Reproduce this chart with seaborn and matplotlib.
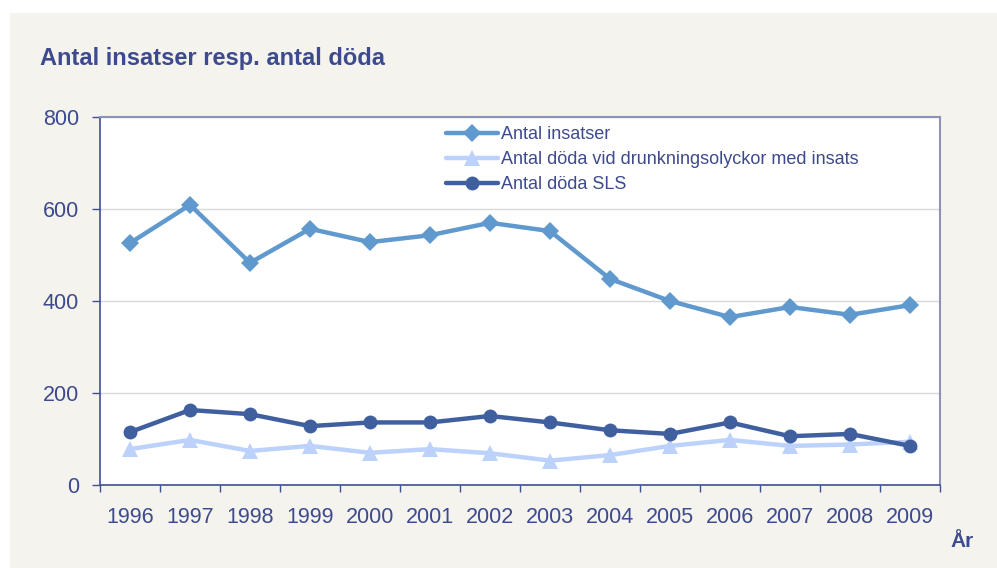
import matplotlib
matplotlib.use("Agg")
import numpy as np
import pandas as pd
import matplotlib.pyplot as plt
from matplotlib.patches import Rectangle
import seaborn as sns

years = ["1996", "1997", "1998", "1999", "2000", "2001", "2002",
         "2003", "2004", "2005", "2006", "2007", "2008", "2009"]
antal_insatser = [526, 609, 483, 557, 528, 543, 570, 552, 448, 400, 365, 387, 370, 391]
doda_drunkning = [78, 98, 74, 85, 70, 78, 69, 53, 65, 85, 98, 85, 88, 94]
doda_sls = [115, 163, 154, 128, 136, 136, 150, 136, 119, 111, 136, 106, 111, 85]
y_ticks = [0, 200, 400, 600, 800]

labels = ["Antal insatser",
          "Antal döda vid drunkningsolyckor med insats",
          "Antal döda SLS"]

sns.set_theme(style="white")
plt.rcParams['font.family'] = ['Liberation Sans', 'DejaVu Sans']

TEXT = '#3D4A8D'
AXC = '#3F4F96'
c_ins = '#5F99CE'
c_drn = '#BCD2FA'
c_sls = '#3F5F9F'

fig = plt.figure(figsize=(9.97, 5.68), dpi=100)
fig.patch.set_facecolor('white')
fig.patches.append(Rectangle((10/997, 0), 987/997, 555/568, transform=fig.transFigure,
                             facecolor='#F4F3EE', edgecolor='none', zorder=-10))

ax = fig.add_axes([100/997, (568-485)/568, 840/997, 368/568])
ax.set_facecolor('white')

pos = np.arange(len(years))
df = pd.DataFrame({"pos": pos, "ins": antal_insatser, "drn": doda_drunkning, "sls": doda_sls})

sns.lineplot(data=df, x="pos", y="ins", ax=ax, color=c_ins, lw=3.2, marker='D',
             markersize=9, markeredgewidth=0, label=labels[0], zorder=3)
sns.lineplot(data=df, x="pos", y="drn", ax=ax, color=c_drn, lw=3.2, marker='^',
             markersize=11, markeredgewidth=0, label=labels[1], zorder=3)
sns.lineplot(data=df, x="pos", y="sls", ax=ax, color=c_sls, lw=3.2, marker='o',
             markersize=10, markeredgewidth=0, label=labels[2], zorder=4)

ax.set_xlim(-0.5, len(years) - 0.5)
ax.set_ylim(0, 800)
ax.set_yticks(y_ticks)
ax.set_yticklabels([str(v) for v in y_ticks])
ax.set_xticks(np.arange(-0.5, len(years), 1.0))
ax.set_xticklabels([])
ax.set_xticks(pos, minor=True)
ax.set_xticklabels(years, minor=True)
ax.tick_params(axis='x', which='major', length=5, width=1, color=AXC, direction='out', bottom=True)
ax.tick_params(axis='x', which='minor', length=0, pad=16, labelsize=15.5, labelcolor=TEXT)
ax.tick_params(axis='y', length=6, width=1, color=AXC, direction='out', left=True,
               pad=9, labelsize=15.5, labelcolor=TEXT)
ax.set_xlabel("")
ax.set_ylabel("")

ax.grid(axis='y', color='#D9D9D9', lw=1)
ax.set_axisbelow(True)
for s in ['left', 'bottom']:
    ax.spines[s].set_color(AXC)
    ax.spines[s].set_linewidth(1.2)
for s in ['top', 'right']:
    ax.spines[s].set_color('#8E92B8')
    ax.spines[s].set_linewidth(1.5)

leg = ax.legend(loc='upper left', bbox_to_anchor=(0.403, 0.995), frameon=False,
                fontsize=13, handlelength=2.9, labelspacing=0.45, handletextpad=0.15,
                borderaxespad=0)
for t in leg.get_texts():
    t.set_color(TEXT)

fig.text(40/997, 1 - 65/568, "Antal insatser resp. antal döda", fontsize=17,
         fontweight='bold', color=TEXT, va='baseline', ha='left')
fig.text(950/997, 1 - 547/568, "År", fontsize=15, fontweight='bold', color=TEXT,
         va='baseline', ha='left')

fig.savefig("out.png", dpi=100, facecolor=fig.get_facecolor())
